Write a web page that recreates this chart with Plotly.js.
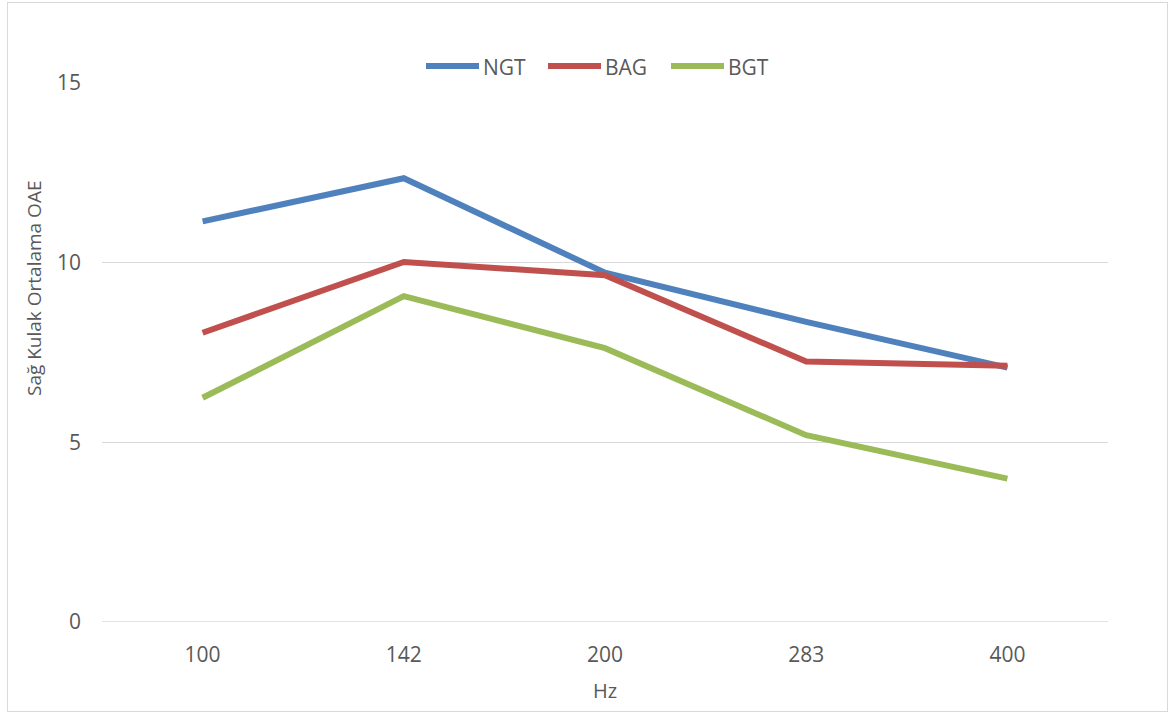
<!DOCTYPE html>
<html>
<head>
<meta charset="utf-8">
<script src="https://cdn.plot.ly/plotly-3.0.1.min.js"></script>
<style>
html,body{margin:0;padding:0;background:#fff;}
#wrap{position:relative;width:1168px;height:713px;}
#chart{position:absolute;left:0;top:0;width:1168px;height:713px;}
#frame{position:absolute;left:7px;top:2px;width:1159px;height:708px;border:1px solid #d9d9d9;pointer-events:none;}
</style>
</head>
<body>
<div id="wrap"><div id="chart"></div><div id="frame"></div></div>
<script>
const categories = ["100", "142", "200", "283", "400"];
const NGT = [11.15, 12.35, 9.72, 8.35, 7.08];
const BAG = [8.05, 10.02, 9.65, 7.25, 7.13];
const BGT = [6.24, 9.07, 7.62, 5.2, 3.99];
const seriesNames = ["NGT", "BAG", "BGT"];
const seriesColors = ["#4F81BD", "#C0504D", "#9BBB59"];
const yTicks = [0, 5, 10, 15];
const xTitle = "Hz";
const yTitle = "Sağ Kulak Ortalama OAE";

const font = "Open Sans, Noto Sans, sans-serif";
const txt = "#595959";
const values = [NGT, BAG, BGT];
const traces = values.map((v, i) => ({
  type: "scatter", mode: "lines", name: seriesNames[i],
  x: categories, y: v,
  line: {color: seriesColors[i], width: 6},
  cliponaxis: false, showlegend: false
}));

// plot area in pixels: x 102..1108, y 83..622
const L = 102, R = 1108, T = 83, B = 622;
const px = v => (v - L) / (R - L);
const py = v => (B - v) / (B - T);

// custom legend (line sample + label), laid out left to right
const legendStarts = [426, 548, 671];
const shapes = [{type: "line", xref: "paper", yref: "y", x0: 0, x1: 1, y0: 0, y1: 0,
                 line: {color: "#d9d9d9", width: 1.5}, layer: "below"}];
const annotations = [
  {text: xTitle, xref: "paper", yref: "paper", x: 0.5, y: py(690), yanchor: "middle",
   showarrow: false, font: {size: 20, color: txt}},
  {text: yTitle, xref: "paper", yref: "paper", x: px(34), y: py(289), textangle: -90,
   xanchor: "center", yanchor: "middle", showarrow: false, font: {size: 19, color: txt}}
];
seriesNames.forEach((n, i) => {
  const s = legendStarts[i];
  shapes.push({type: "line", xref: "paper", yref: "paper", x0: px(s), x1: px(s + 53),
               y0: py(66), y1: py(66), line: {color: seriesColors[i], width: 6}});
  annotations.push({text: n, xref: "paper", yref: "paper", x: px(s + 55), y: py(67),
                    xanchor: "left", yanchor: "middle", showarrow: false,
                    font: {size: 21, color: txt}});
});

const layout = {
  width: 1168, height: 713,
  margin: {l: L, r: 1168 - R, t: T, b: 713 - B},
  paper_bgcolor: "#fff", plot_bgcolor: "#fff",
  font: {family: font, color: txt, size: 21},
  showlegend: false,
  xaxis: {type: "category", range: [-0.5, 4.5], showgrid: false, zeroline: false,
          showline: false, ticks: "", ticklabelstandoff: 18, tickfont: {size: 21, color: txt}},
  yaxis: {range: [0, 15], tickvals: yTicks, ticktext: yTicks.map(String),
          showgrid: true, gridcolor: "#d9d9d9", gridwidth: 1, zeroline: false,
          showline: false, ticks: "", ticklabelstandoff: 20, tickfont: {size: 21, color: txt}},
  shapes: shapes,
  annotations: annotations
};

Plotly.newPlot("chart", traces, layout, {displayModeBar: false, staticPlot: true});
</script>
</body>
</html>
